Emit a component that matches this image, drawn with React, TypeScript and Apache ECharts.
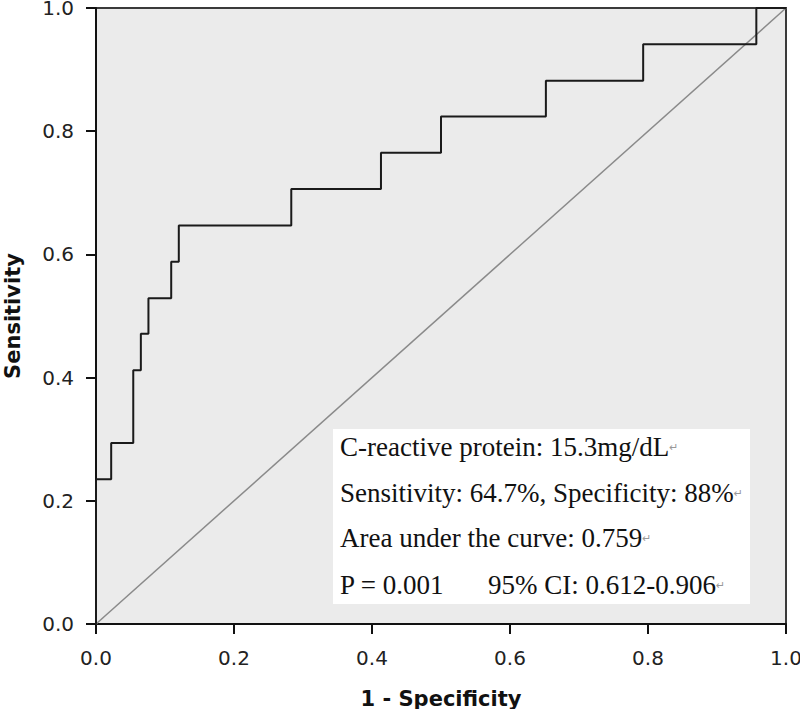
import React, { useEffect, useRef } from "react";
import * as echarts from "echarts";

// ROC curve corner points (1 - specificity, sensitivity)
const fprValues = [0, 0, 0.022, 0.054, 0.065, 0.076, 0.109, 0.12, 0.283, 0.413, 0.5, 0.652, 0.793, 0.957, 1.0];
const tprValues = [0, 0.235, 0.294, 0.412, 0.471, 0.529, 0.588, 0.647, 0.706, 0.765, 0.824, 0.882, 0.941, 1.0, 1.0];
// reference (chance) line
const refX = [0, 1];
const refY = [0, 1];
const axisTicks = [0, 0.2, 0.4, 0.6, 0.8, 1.0];

const annotationLines = [
  "C-reactive protein: 15.3mg/dL",
  "Sensitivity: 64.7%, Specificity: 88%",
  "Area under the curve: 0.759",
  "P = 0.001",
];
const annotationCI = "95% CI: 0.612-0.906";

export default function App() {
  const ref = useRef<HTMLDivElement>(null);
  useEffect(() => {
    if (!ref.current) return;
    const chart = echarts.init(ref.current, undefined, { renderer: "svg" });
    const serif = "'Liberation Serif', 'Times New Roman', serif";
    const sans = "'DejaVu Sans', sans-serif";
    const lineYs = [447, 493, 538, 585];
    const ret = { fontSize: 11, fontFamily: "'DejaVu Sans'", fill: "#999" };
    const option: any = {
      animation: false,
      backgroundColor: "#ffffff",
      grid: {
        left: 96,
        top: 8,
        width: 690,
        height: 616,
        containLabel: false,
        outerBoundsMode: "none",
        show: true,
        backgroundColor: "#ebebeb",
        borderColor: "#3a3a3a",
        borderWidth: 2,
      },
      xAxis: {
        type: "value",
        min: axisTicks[0],
        max: axisTicks[axisTicks.length - 1],
        interval: 0.2,
        name: "1 - Specificity",
        nameLocation: "middle",
        nameGap: 64,
        nameTextStyle: { fontFamily: sans, fontWeight: "bold", fontSize: 21, color: "#111", verticalAlign: "top" },
        axisLine: { lineStyle: { color: "#111", width: 2 } },
        axisTick: { show: true, length: 10, lineStyle: { color: "#111", width: 2 } },
        axisLabel: { margin: 24, fontFamily: sans, fontSize: 20, color: "#222", formatter: (v: number) => v.toFixed(1) },
        splitLine: { show: false },
      },
      yAxis: {
        type: "value",
        min: axisTicks[0],
        max: axisTicks[axisTicks.length - 1],
        interval: 0.2,
        name: "Sensitivity",
        nameLocation: "middle",
        nameGap: 73,
        nameTextStyle: { fontFamily: sans, fontWeight: "bold", fontSize: 21, color: "#111" },
        axisLine: { lineStyle: { color: "#111", width: 2 } },
        axisTick: { show: true, length: 10, lineStyle: { color: "#111", width: 2 } },
        axisLabel: { margin: 22, fontFamily: sans, fontSize: 20, color: "#222", formatter: (v: number) => v.toFixed(1) },
        splitLine: { show: false },
      },
      series: [
        {
          type: "line",
          data: refX.map((x, i) => [x, refY[i]]),
          symbol: "none",
          lineStyle: { color: "#8a8a8a", width: 1.5 },
          z: 2,
        },
        {
          type: "line",
          step: "end",
          data: fprValues.map((x, i) => [x, tprValues[i]]),
          symbol: "none",
          lineStyle: { color: "#1a1a1a", width: 2 },
          z: 3,
        },
      ],
      graphic: [
        {
          type: "rect",
          shape: { x: 333, y: 429, width: 417, height: 175 },
          style: { fill: "#ffffff" },
          z: 10,
        },
        ...annotationLines.map((t, i) => ({
          type: "text",
          x: 340,
          y: lineYs[i],
          z: 11,
          style: {
            text: i === 3 ? t : `{a|${t}}{r|↵}`,
            fontFamily: serif,
            fontSize: 27,
            fill: "#111",
            verticalAlign: "middle",
            rich: i === 3 ? undefined : { a: { fontFamily: serif, fontSize: 27, fill: "#111" }, r: ret },
          },
        })),
        {
          type: "text",
          x: 488,
          y: lineYs[3],
          z: 11,
          style: {
            text: `{a|${annotationCI}}{r|↵}`,
            fontFamily: serif,
            fontSize: 27,
            fill: "#111",
            verticalAlign: "middle",
            rich: { a: { fontFamily: serif, fontSize: 27, fill: "#111" }, r: ret },
          },
        },
      ],
    };
    chart.setOption(option);
    return () => chart.dispose();
  }, []);
  return (
    <div
      ref={ref}
      style={{ position: "absolute", left: 0, top: 0, width: 800, height: 709 }}
    />
  );
}
